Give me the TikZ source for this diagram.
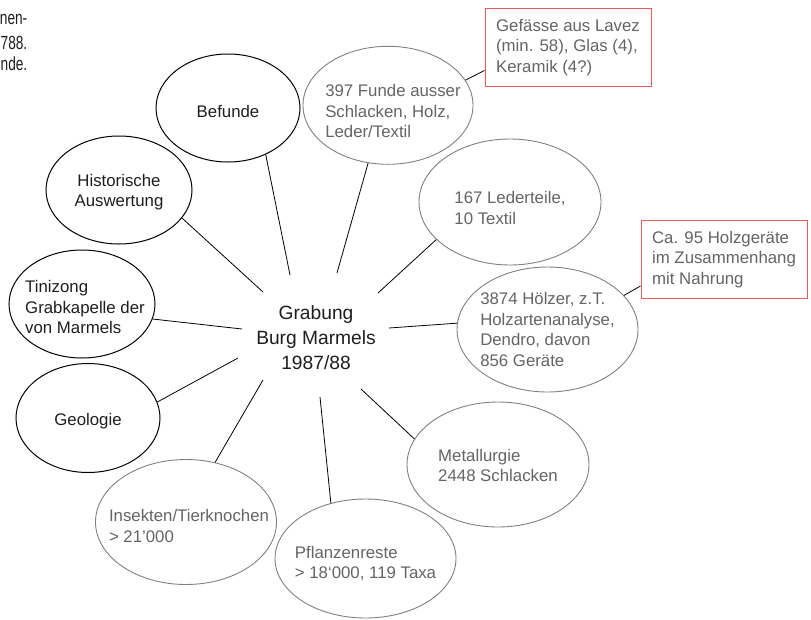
\documentclass[tikz,border=0pt]{standalone}
\usepackage{fontspec}
\usepackage{graphicx}
\setmainfont{Liberation Sans}
\usetikzlibrary{shapes.geometric,calc}
\definecolor{gtext}{RGB}{100,100,100}
\definecolor{gline}{RGB}{128,128,128}
\definecolor{btext}{RGB}{30,30,30}
\definecolor{redbox}{RGB}{236,90,90}
\newcommand{\narrowtxt}[1]{\scalebox{0.72}[1.0]{#1}}
\begin{document}
\begin{tikzpicture}[x=1pt,y=-1pt,
  bell/.style={ellipse,draw=black,line width=1.0pt,inner sep=0pt},
  gell/.style={ellipse,draw=gline,line width=0.9pt,inner sep=0pt},
  btxt/.style={text=btext,font=\fontsize{16.8}{20.4}\selectfont,align=center,inner sep=0pt},
  gtxt/.style={text=gtext,font=\fontsize{16.8}{20.4}\selectfont,align=left,inner sep=0pt},
  rbox/.style={draw=redbox,line width=1pt,inner sep=0pt,minimum width=166pt,minimum height=78pt,
    text=gtext,font=\fontsize{16.8}{20.6}\selectfont,align=left},
  ctxt/.style={text=btext,font=\fontsize{19.2}{25}\selectfont,align=center,inner sep=0pt},
  cut/.style={text=btext,font=\fontsize{19}{20}\selectfont,anchor=base east,inner sep=0pt},
  conn/.style={draw=black,line width=0.8pt}]
\useasboundingbox (0,0) rectangle (811,619);

% cut-off caption at top left
\node[cut] (cap1) at (27.5,24.3) {\narrowtxt{nen-}};
\node[cut] (cap2) at (27.5,49.3) {\narrowtxt{788.}};
\node[cut] (cap3) at (27.5,70.5) {\narrowtxt{nde.}};

% centre
\node[ctxt] (mid) at (316,338) {Grabung\\Burg Marmels\\1987/88};

% black ellipses
\node[bell,minimum width=144pt,minimum height=108pt,
  label={[btxt,yshift=-3pt]center:Befunde}] (bef) at (228,108) {};
\node[bell,minimum width=146pt,minimum height=108pt,
  label={[btxt,yshift=-2pt]center:Historische\\Auswertung}] (hist) at (119,190) {};
\node[bell,minimum width=146pt,minimum height=108pt,
  label={[btxt,align=left,xshift=3pt,yshift=-3pt]center:Tinizong\\Grabkapelle der\\von Marmels}] (tin) at (82,304) {};
\node[bell,minimum width=144pt,minimum height=109pt,
  label={[btxt,yshift=-3pt]center:Geologie}] (geo) at (88,418) {};

% grey ellipses
\node[gell,minimum width=170pt,minimum height=118pt,
  label={[gtxt,xshift=5pt,yshift=-6pt]center:397 Funde ausser\\Schlacken, Holz,\\Leder/Textil}] (f397) at (388,105.3) {};
\node[gell,minimum width=182pt,minimum height=126pt,
  label={[gtxt,yshift=-6pt]center:167 Lederteile,\\10 Textil}] (led) at (510,202) {};
\node[gell,minimum width=181pt,minimum height=125pt,
  label={[gtxt,yshift=0pt]center:3874 Hölzer, z.T.\\Holzartenanalyse,\\Dendro, davon\\856 Geräte}] (holz) at (547.5,329.5) {};
\node[gell,minimum width=182pt,minimum height=125pt,
  label={[gtxt,yshift=-1pt]center:Metallurgie\\2448 Schlacken}] (met) at (498,464.5) {};
\node[gell,minimum width=181pt,minimum height=119pt,
  label={[gtxt,yshift=-5pt]center:Pflanzenreste\\> 18‘000, 119 Taxa}] (pfl) at (365.5,558.5) {};
\node[gell,minimum width=181pt,minimum height=125pt,
  label={[gtxt,xshift=3pt,yshift=-4pt]center:Insekten/Tierknochen\\> 21’000}] (ins) at (186,522) {};

% red boxes
\node[rbox] (gef) at (568,47.5) {Gefässe aus Lavez\\(min. 58), Glas (4),\\Keramik (4?)};
\node[rbox] (ca) at (724,259.5) {Ca. 95 Holzgeräte\\im Zusammenhang\\mit Nahrung};

% free ends near the centre
\coordinate (e1) at (290,275);
\coordinate (e2) at (337,273);
\coordinate (e3) at (378,293);
\coordinate (e4) at (389,328);
\coordinate (e5) at (361,389);
\coordinate (e6) at (320,397);
\coordinate (e7) at (263,380);
\coordinate (e8) at (238,358);
\coordinate (e9) at (242,329);
\coordinate (e10) at (263,292);

\draw[conn] (bef.-51.5) -- (e1);
\draw[conn] (f397.251.2) -- (e2);
\draw[conn] (led.207.5) -- (e3);
\draw[conn] (holz.176.8) -- (e4);
\draw[conn] (met.163.6) -- (e5);
\draw[conn] (pfl.122) -- (e6);
\draw[conn] (ins.64.1) -- (e7);
\draw[conn] (geo.13.1) -- (e8);
\draw[conn] (tin.-12.4) -- (e9);
\draw[conn] (hist.-24.2) -- (e10);

\draw[conn] (f397.18.2) -- ($(gef.west)+(0,23)$);
\draw[conn] (holz.24.3) -- ($(ca.west)+(0,26.5)$);
\end{tikzpicture}
\end{document}
